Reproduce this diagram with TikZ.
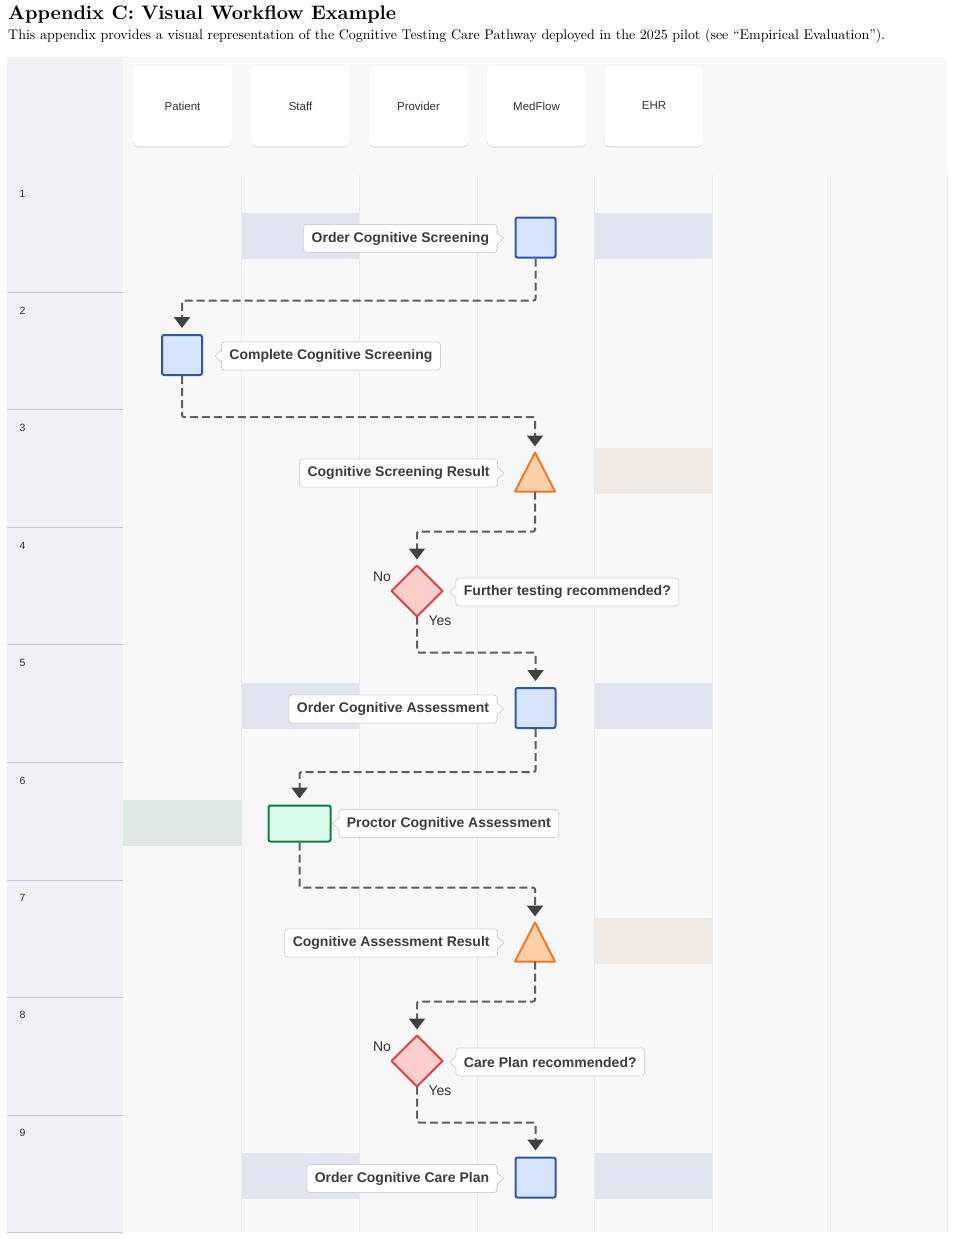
\documentclass[tikz,border=0pt]{standalone}
\usepackage{fontspec}
\usepackage{graphicx}
\newfontfamily\lsans{Liberation Sans}
\usetikzlibrary{arrows.meta,calc}
\definecolor{leftcol}{HTML}{F0F0F5}
\definecolor{maincol}{HTML}{F8F8F8}
\definecolor{gridcol}{HTML}{E7EAED}
\definecolor{rowsepcol}{HTML}{C8C8CC}
\definecolor{bandblue}{HTML}{E0E5EF}
\definecolor{bandbeige}{HTML}{F3EBE6}
\definecolor{bandgreen}{HTML}{E0E9E4}
\definecolor{bluefill}{HTML}{D6E4FC}
\definecolor{bluestroke}{HTML}{2E57A8}
\definecolor{orfill}{HTML}{FDD0AA}
\definecolor{orstroke}{HTML}{F07A2A}
\definecolor{redfill}{HTML}{FCCFCF}
\definecolor{redstroke}{HTML}{E23E44}
\definecolor{grfill}{HTML}{D9FBE9}
\definecolor{grstroke}{HTML}{1A7A45}
\definecolor{txt}{HTML}{333333}
\definecolor{lbltxt}{HTML}{3C3C3C}
\definecolor{lblborder}{HTML}{D2D2D2}
\definecolor{linecol}{HTML}{5B6060}
\definecolor{tipcol}{HTML}{3D4343}
\definecolor{shadowcol}{HTML}{E4E4E4}
\newcommand\ptrright[1]{%
  \fill[white] ($(#1.east)+(-1.5,-5.5)$) -- ($(#1.east)+(6,0)$) -- ($(#1.east)+(-1.5,5.5)$) -- cycle;
  \draw[lblborder,line width=0.8pt,line join=round] ($(#1.east)+(0,-5.5)$) -- ($(#1.east)+(6,0)$) -- ($(#1.east)+(0,5.5)$);}
\newcommand\ptrleft[1]{%
  \fill[white] ($(#1.west)+(1.5,-5.5)$) -- ($(#1.west)+(-6,0)$) -- ($(#1.west)+(1.5,5.5)$) -- cycle;
  \draw[lblborder,line width=0.8pt,line join=round] ($(#1.west)+(0,-5.5)$) -- ($(#1.west)+(-6,0)$) -- ($(#1.west)+(0,5.5)$);}
\begin{document}
\begin{tikzpicture}[x=1pt,y=-1pt,
  lbl/.style={draw=lblborder, fill=white, rounded corners=3pt, line width=0.8pt,
    inner xsep=8pt, inner ysep=0pt, minimum height=28pt,
    font=\lsans\bfseries\fontsize{14}{16}\selectfont, text=lbltxt},
  sq/.style={draw=bluestroke, fill=bluefill, line width=2pt, rounded corners=2pt,
    minimum width=40pt, minimum height=40pt, inner sep=0pt},
  grect/.style={draw=grstroke, fill=grfill, line width=2pt, rounded corners=2pt,
    minimum width=62pt, minimum height=36pt, inner sep=0pt},
  shapebox/.style={inner sep=0pt, outer sep=0pt},
  tri/.style={draw=orstroke, fill=orfill, line width=2pt, line join=round},
  dia/.style={draw=redstroke, fill=redfill, line width=2pt, line join=round},
  flow/.style={draw=linecol, line width=2pt, dash pattern=on 8pt off 4pt, rounded corners=2pt,
    -{Triangle[width=16pt,length=11pt,color=tipcol]}, shorten >=6pt},
  card/.style={fill=white, rounded corners=5pt, minimum width=99pt, minimum height=80pt,
    font=\lsans\fontsize{11.5}{13}\selectfont, text=txt},
  rownum/.style={font=\lsans\fontsize{10.5}{12}\selectfont, text=txt},
  yn/.style={font=\lsans\fontsize{14}{16}\selectfont, text=txt},
  gridline/.style={draw=gridcol, line width=1pt},
  rowsep/.style={draw=rowsepcol, line width=1pt}]
\useasboundingbox (0,0) rectangle (954,1239);
\fill[white] (0,0) rectangle (954,1239);
% title
\node[anchor=base west, inner sep=0pt] (title) at (8,20)
  {\resizebox{388pt}{!}{\bfseries Appendix C: Visual Workflow Example}};
\node[anchor=base west, inner sep=0pt] (subtitle) at (8,39.5)
  {\resizebox{877pt}{!}{This appendix provides a visual representation of the Cognitive Testing Care Pathway deployed in the 2025 pilot (see ``Empirical Evaluation'').}};
% panel
\fill[maincol] (123,57) rectangle (947,1232);
\fill[leftcol] (7,57) rectangle (123,1232);
% bands
\fill[bandblue] (241,213) rectangle (359,259);
\fill[bandblue] (594,213) rectangle (712,259);
\fill[bandbeige] (594,448) rectangle (712,494);
\fill[bandblue] (241,683) rectangle (359,729);
\fill[bandblue] (594,683) rectangle (712,729);
\fill[bandgreen] (123,800) rectangle (241,846);
\fill[bandbeige] (594,918) rectangle (712,964);
\fill[bandblue] (241,1153) rectangle (359,1199);
\fill[bandblue] (594,1153) rectangle (712,1199);
% grid lines
\foreach \x in {241,359,477,594,712,830,947}
  \draw[gridline] (\x,175) -- (\x,1232);
\foreach \y in {292,409.5,527,644.5,762,880,997,1115,1232}
  \draw[rowsep] (7,\y) -- (123,\y);
% row numbers
\foreach \i in {1,...,9}
  \node[rownum, anchor=west, inner sep=0pt] (rn\i) at (19.5,{175+(\i-1)*117.4+18.5}) {\i};
% header cards
\foreach \nm/\cx in {Patient/182.5,Staff/300.5,Provider/418.5,MedFlow/536.5,EHR/654} {
  \fill[shadowcol, rounded corners=5pt] ({\cx-49.5},67.5) rectangle ({\cx+49.5},147.5);
  \node[card] (h\nm) at (\cx,106) {\nm};
}
% steps
\node[sq] (s1) at (535.5,237.5) {};
\node[sq] (s2) at (182,355) {};
\node[shapebox, minimum width=40pt, minimum height=39pt] (t3) at (535,472) {};
\filldraw[tri] (t3.north) -- (t3.south east) -- (t3.south west) -- cycle;
\node[shapebox, minimum width=51pt, minimum height=51pt] (d4) at (417,591) {};
\filldraw[dia] (d4.north) -- (d4.east) -- (d4.south) -- (d4.west) -- cycle;
\node[sq] (s5) at (535.5,708) {};
\node[grect] (g6) at (299.5,823.5) {};
\node[shapebox, minimum width=40pt, minimum height=39pt] (t7) at (535,942) {};
\filldraw[tri] (t7.north) -- (t7.south east) -- (t7.south west) -- cycle;
\node[shapebox, minimum width=51pt, minimum height=51pt] (d8) at (417,1061) {};
\filldraw[dia] (d8.north) -- (d8.east) -- (d8.south) -- (d8.west) -- cycle;
\node[sq] (s9) at (535.5,1177.5) {};
% yes / no
\node[yn] (no4) at ($(d4.center)+(-35,-14)$) {No};
\node[yn] (yes4) at ($(d4.center)+(23,30)$) {Yes};
\node[yn] (no8) at ($(d8.center)+(-35,-14)$) {No};
\node[yn] (yes8) at ($(d8.center)+(23,30)$) {Yes};
% labels
\node[lbl, anchor=east] (l1) at ($(s1.west)+(-17,1)$) {Order Cognitive Screening};
\ptrright{l1}
\node[lbl, anchor=west] (l2) at ($(s2.east)+(18,1)$) {Complete Cognitive Screening};
\ptrleft{l2}
\node[lbl, anchor=east] (l3) at ($(t3.west)+(-17,1)$) {Cognitive Screening Result};
\ptrright{l3}
\node[lbl, anchor=west] (l4) at ($(d4.east)+(13,1)$) {Further testing recommended?};
\ptrleft{l4}
\node[lbl, anchor=east] (l5) at ($(s5.west)+(-17,1)$) {Order Cognitive Assessment};
\ptrright{l5}
\node[lbl, anchor=west] (l6) at ($(g6.east)+(7,0)$) {Proctor Cognitive Assessment};
\ptrleft{l6}
\node[lbl, anchor=east] (l7) at ($(t7.west)+(-17,1)$) {Cognitive Assessment Result};
\ptrright{l7}
\node[lbl, anchor=west] (l8) at ($(d8.east)+(13,1)$) {Care Plan recommended?};
\ptrleft{l8}
\node[lbl, anchor=east] (l9) at ($(s9.west)+(-17,1)$) {Order Cognitive Care Plan};
\ptrright{l9}
% connectors
\draw[flow] (s1.south) -- ++(0,42) -| (s2.north);
\draw[flow] (s2.south) -- ++(0,41) -| (t3.north);
\draw[flow] (t3.south) -- ++(0,40) -| (d4.north);
\draw[flow] (d4.south) -- ++(0,36) -| (s5.north);
\draw[flow] (s5.south) -- ++(0,43) -| (g6.north);
\draw[flow] (g6.south) -- ++(0,45) -| (t7.north);
\draw[flow] (t7.south) -- ++(0,40) -| (d8.north);
\draw[flow] (d8.south) -- ++(0,36) -| (s9.north);
\end{tikzpicture}
\end{document}
